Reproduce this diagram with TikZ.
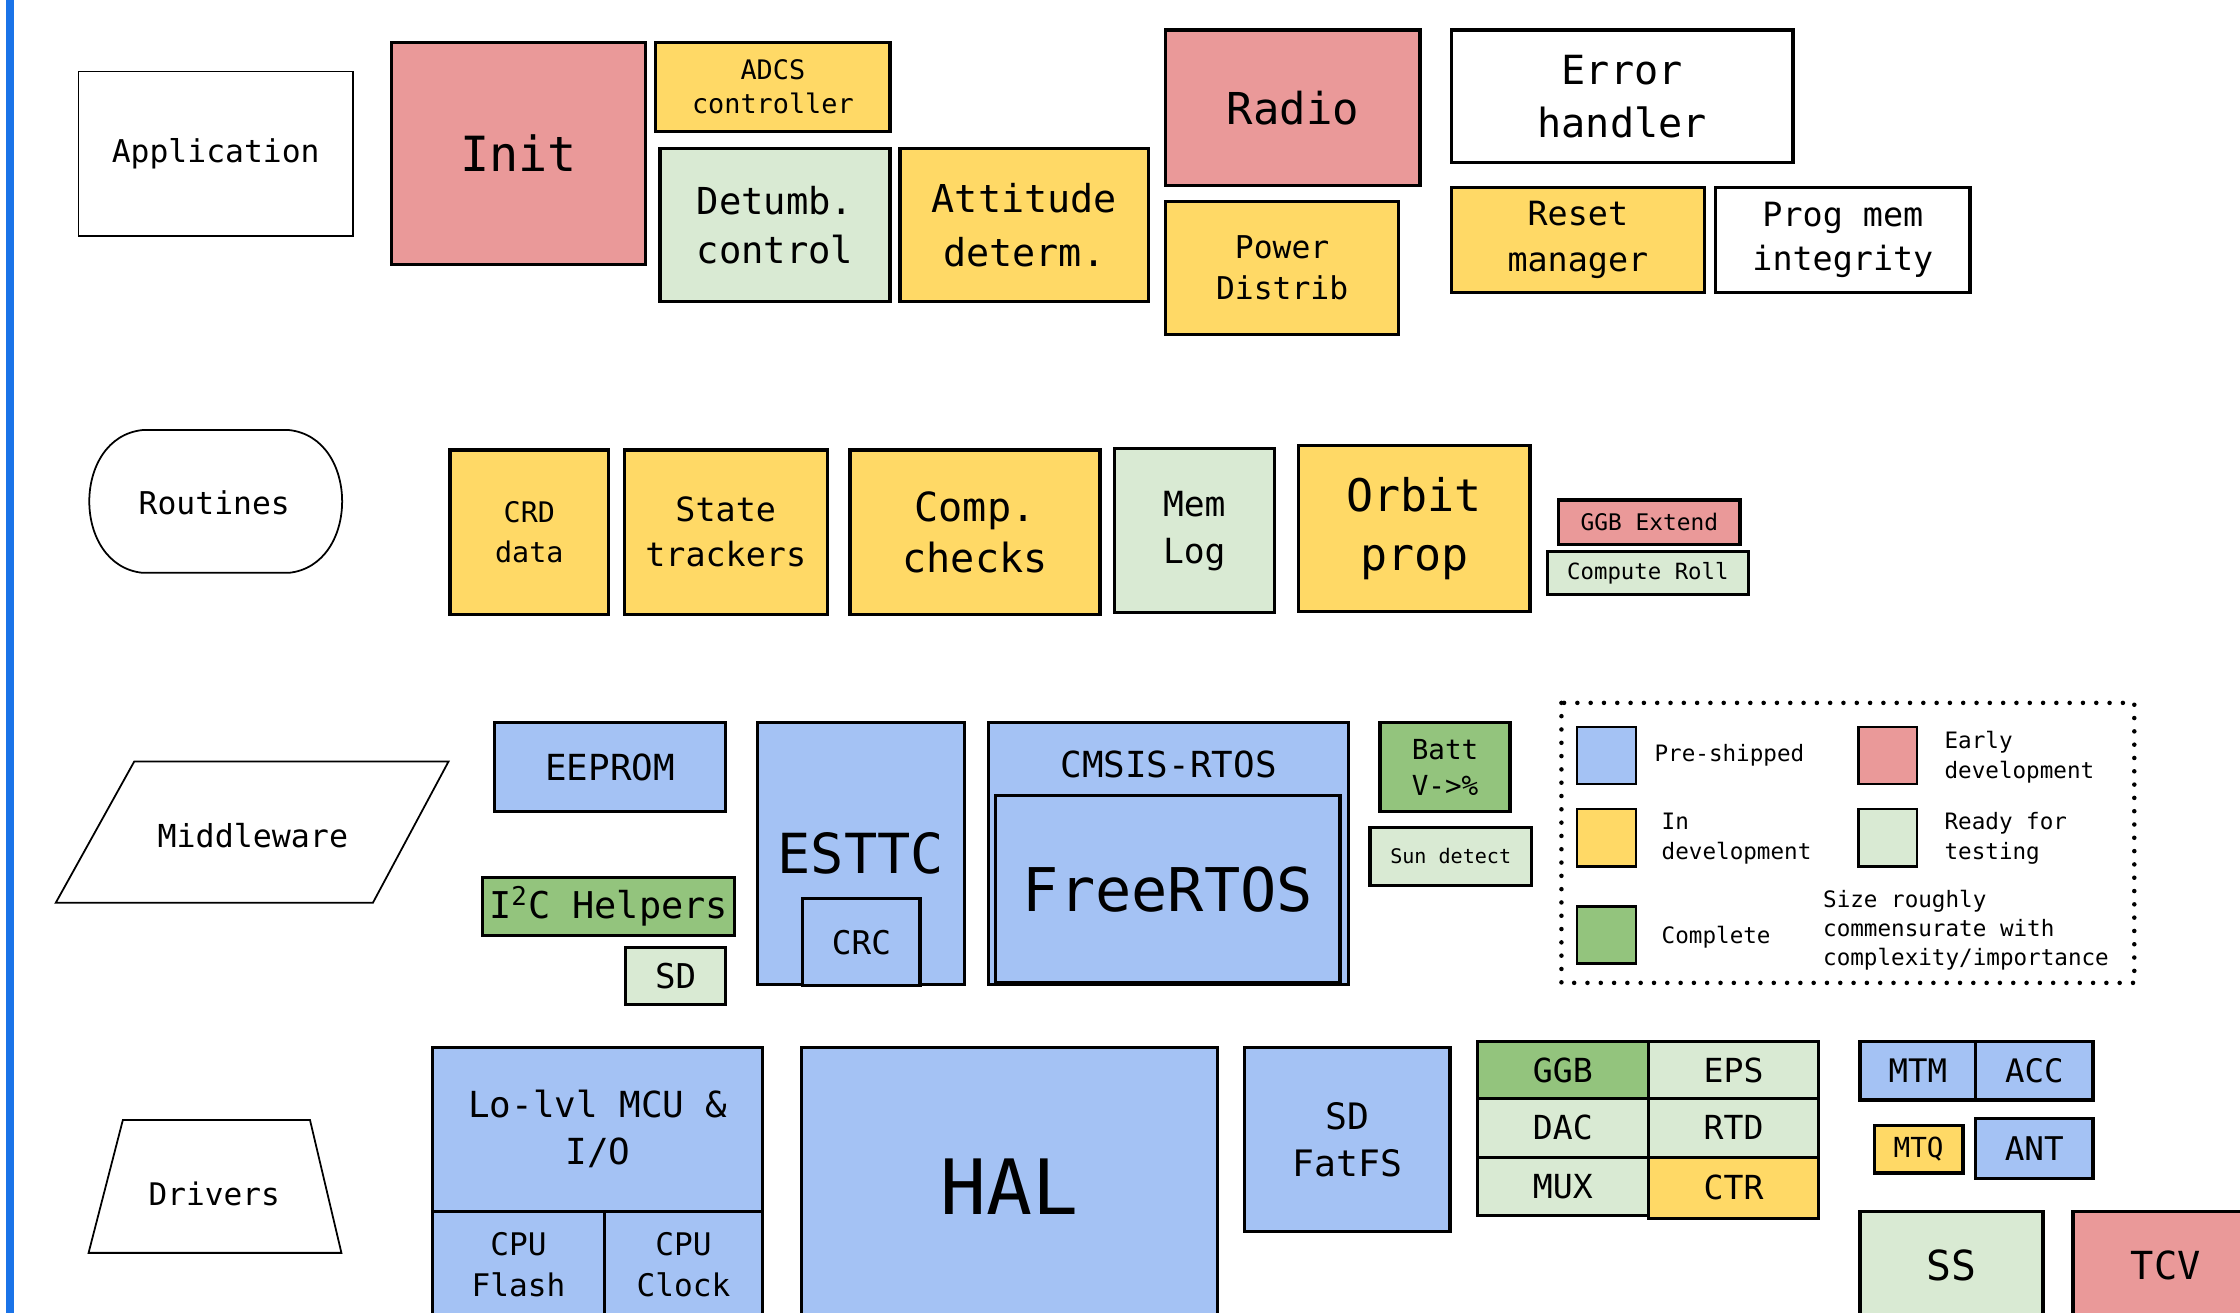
\documentclass[tikz,border=0pt]{standalone}
\usepackage{fontspec}
\setmainfont{DejaVu Sans Mono}

\definecolor{erly}{HTML}{EA9999}
\definecolor{indev}{HTML}{FFD966}
\definecolor{done}{HTML}{93C47D}
\definecolor{rdy}{HTML}{D9EAD3}
\definecolor{shipd}{HTML}{A4C2F4}
\definecolor{edgebar}{HTML}{1A73E8}

\begin{document}
\begin{tikzpicture}[x=0.2mm, y=-0.2mm,
    box/.style = {draw, line width=1.3pt, inner sep=0pt, align=center},
    lbl/.style = {draw, line width=0.7pt},
    swatch/.style = {draw, line width=0.9pt, inner sep=0pt},
    wh/.style 2 args = {minimum width=#1*0.2mm, minimum height=#2*0.2mm},
    fs/.style 2 args = {font=\fontsize{#1}{#2}\selectfont}]
    \clip (0,0) rectangle (1568,919);
    \fill[edgebar] (4,0) rectangle (10,919);

    % layer labels
    \node[lbl, inner sep=0pt, wh={192}{115}, fs={12.5}{16}] (app) at (151,107.5) {Application};
    \draw[lbl] (100,301) -- (202,301) .. controls (252,306) and (252,396) .. (202,401)
        -- (100,401) .. controls (50,396) and (50,306) .. (100,301) -- cycle;
    \node[fs={12.5}{16}] (rout) at (150,352) {Routines};
    \draw[lbl] (94,533) -- (314,533) -- (261,632) -- (39,632) -- cycle;
    \node[fs={12.6}{16}] (midw) at (177,585) {Middleware};
    \draw[lbl] (86,784) -- (217,784) -- (239,877) -- (62,877) -- cycle;
    \node[fs={12.4}{16}] (drv) at (150,836) {Drivers};

    % application
    \node[box, fill=erly, wh={178}{155}, fs={19.3}{25}] (init) at (363,107.5) {Init};
    \node[box, fill=indev, wh={164}{62}, fs={10.7}{13.6}] (adcs) at (541,61) {ADCS\\controller};
    \node[box, fill=rdy, wh={161}{107}, fs={14.8}{19.8}] (detumb) at (542.5,157.5) {Detumb.\\control};
    \node[box, fill=indev, wh={174}{107}, fs={15.3}{21.5}] (attdet) at (717,157.5) {Attitude\\determ.};
    \node[box, fill=erly, wh={178}{109}, fs={17.5}{22}] (radio) at (905,75.5) {Radio};
    \node[box, fill=indev, wh={163}{93}, fs={12.5}{16}] (pwr) at (897.5,187.5) {Power\\Distrib};
    \node[box, wh={239}{93}, fs={16}{21}] (err) at (1135.5,67.5) {Error\\handler};
    \node[box, fill=indev, wh={177}{74}, fs={13.3}{18}] (reset) at (1104.5,168) {Reset\\manager};
    \node[box, wh={178}{74}, fs={13.3}{17.6}] (progmem) at (1290,168) {Prog mem\\integrity};

    % routines
    \node[box, fill=indev, wh={111}{115}, fs={11.3}{16}] (crd) at (370.5,372.5) {CRD\\data};
    \node[box, fill=indev, wh={142}{115}, fs={13.3}{18}] (state) at (508,372.5) {State\\trackers};
    \node[box, fill=indev, wh={175}{115}, fs={16}{20.4}] (comp) at (682.5,372.5) {Comp.\\checks};
    \node[box, fill=rdy, wh={112}{115}, fs={13.8}{18.7}] (memlog) at (836,371.5) {Mem\\Log};
    \node[box, fill=indev, wh={162}{116}, fs={17.9}{23.8}] (orbit) at (990,370) {Orbit\\prop};
    \node[box, fill=erly, wh={127}{31}, fs={9.1}{11}] (ggbext) at (1154.5,365.5) {GGB Extend};
    \node[box, fill=rdy, wh={141}{30}, fs={8.9}{11}] (roll) at (1153.5,401) {Compute Roll};

    % middleware
    \node[box, fill=shipd, wh={162}{62}, fs={14.3}{18}] (eeprom) at (427,537) {EEPROM};
    \node[box, fill=done, wh={176}{41}, fs={14.7}{18}] (i2c) at (426,634.5) {I\textsuperscript{2}C Helpers};
    \node[box, fill=rdy, wh={70}{40}, fs={13.6}{18}] (sdmw) at (473,683) {SD};
    \node[box, fill=shipd, wh={145}{183}, fs={22}{26}] (esttc) at (602.5,597.5) {ESTTC};
    \node[box, fill=shipd, wh={82}{61}, fs={13}{16}] (crc) at (603,659.5) {CRC};
    \node[box, fill=shipd, wh={252}{183}] (cmsis) at (818,597.5) {};
    \node[fs={14.3}{18}] (cmsistxt) at (818,535) {CMSIS-RTOS};
    \node[box, fill=shipd, wh={241}{131}, fs={24}{28}] (freertos) at (817.5,622.5) {FreeRTOS};
    \node[box, fill=done, wh={91}{62}, fs={11}{14.2}] (batt) at (1011.5,537) {Batt\\V->\%};
    \node[box, fill=rdy, wh={113}{41}, fs={8}{10}] (sun) at (1015.5,599.5) {Sun detect};

    % legend
    \draw[line width=1.8pt, line cap=round, dash pattern=on 0pt off 5.3pt] (1093,492) rectangle (1494,688);
    \node[swatch, fill=shipd, wh={41}{40}] (kshipd) at (1124.5,529) {};
    \node[swatch, fill=erly, wh={41}{40}] (kerly) at (1321.5,529) {};
    \node[swatch, fill=indev, wh={41}{40}] (kindev) at (1124.5,586.5) {};
    \node[swatch, fill=rdy, wh={41}{40}] (krdy) at (1321.5,586.5) {};
    \node[swatch, fill=done, wh={41}{40}] (kdone) at (1124.5,654.5) {};
    \node[anchor=west, fs={9}{12}] (tshipd) at (1152,529) {Pre-shipped};
    \node[anchor=west, align=left, fs={9}{12}] (terly) at (1355,530) {Early\\development};
    \node[anchor=west, align=left, fs={9}{12}] (tindev) at (1157,587) {In\\development};
    \node[anchor=west, align=left, fs={9}{12}] (trdy) at (1355,587) {Ready for\\testing};
    \node[anchor=west, fs={9}{12}] (tdone) at (1157,656) {Complete};
    \node[anchor=west, align=left, fs={9}{11.6}] (tsize) at (1270,651) {Size roughly\\commensurate with\\complexity/importance};

    % drivers
    \node[box, fill=shipd, wh={231}{115}, fs={14.3}{18.7}] (lolvl) at (418.5,790.5) {Lo-lvl MCU \&\\I/O};
    \node[box, fill=shipd, wh={120}{75}, fs={12.4}{16.4}] (cpuflash) at (363,885.5) {CPU\\Flash};
    \node[box, fill=shipd, wh={111}{75}, fs={12.4}{16.4}] (cpuclk) at (478.5,885.5) {CPU\\Clock};
    \node[box, fill=shipd, wh={291}{196}, fs={30.4}{34}] (hal) at (706.5,831) {HAL};
    \node[box, fill=shipd, wh={144}{129}, fs={14.5}{18.7}] (fatfs) at (943,797.5) {SD\\FatFS};
    \node[box, fill=done, wh={120}{40}, fs={13.2}{16}] (ggb) at (1094,749) {GGB};
    \node[box, fill=rdy, wh={119}{40}, fs={13.2}{16}] (eps) at (1213.5,749) {EPS};
    \node[box, fill=rdy, wh={120}{41}, fs={13.2}{16}] (dac) at (1094,789.5) {DAC};
    \node[box, fill=rdy, wh={119}{41}, fs={13.2}{16}] (rtd) at (1213.5,789.5) {RTD};
    \node[box, fill=rdy, wh={120}{41}, fs={13.2}{16}] (mux) at (1094,830.5) {MUX};
    \node[box, fill=indev, wh={119}{43}, fs={13.2}{16}] (ctr) at (1213.5,831.5) {CTR};
    \node[box, fill=shipd, wh={81}{41}, fs={12.9}{16}] (mtm) at (1342.5,749.5) {MTM};
    \node[box, fill=shipd, wh={82}{41}, fs={12.9}{16}] (acc) at (1424,749.5) {ACC};
    \node[box, fill=indev, wh={62}{33}, fs={11}{14}] (mtq) at (1343,804.5) {MTQ};
    \node[box, fill=shipd, wh={82}{42}, fs={13}{16}] (ant) at (1424,804) {ANT};
    \node[box, fill=rdy, wh={128}{75}, fs={16.5}{20}] (ss) at (1366,885.5) {SS};
    \node[box, fill=erly, wh={130}{75}, fs={15.4}{19}] (tcv) at (1516,885.5) {TCV};
\end{tikzpicture}
\end{document}
